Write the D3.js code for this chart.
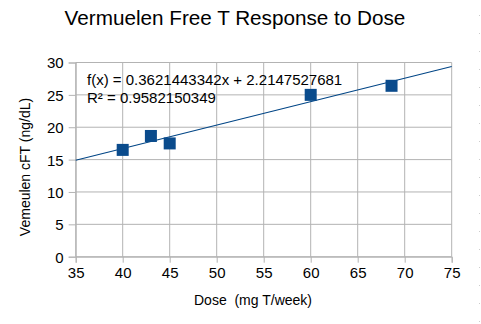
<!DOCTYPE html>
<html><head><meta charset="utf-8">
<script src="https://cdn.jsdelivr.net/npm/d3@7"></script>
<style>body{margin:0;background:#fff}svg{display:block;font-family:"Liberation Sans",Arial,sans-serif}</style>
</head><body>
<svg id="c" width="481" height="324"></svg>
<script>
const doses = [40, 43, 45, 60, 68.6];
const freeT = [16.5, 18.65, 17.5, 25.0, 26.4];
const xTicks = [35, 40, 45, 50, 55, 60, 65, 70, 75];
const yTicks = [0, 5, 10, 15, 20, 25, 30];
const slope = 0.3621443342, intercept = 2.2147527681;
const eqLines = ["f(x) = 0.3621443342x + 2.2147527681", "R\u00b2 = 0.9582150349"];

const svg = d3.select("#c");
const x = d3.scaleLinear().domain([35, 75]).range([75.7, 451.7]);
const y = d3.scaleLinear().domain([0, 30]).range([256.7, 62.5]);
const grid = "#b3b3b3";

// gridlines
svg.append("g").selectAll("line").data(xTicks).join("line")
  .attr("x1", d => x(d)).attr("x2", d => x(d)).attr("y1", y(30)).attr("y2", y(0))
  .attr("stroke", grid).attr("stroke-width", 1);
svg.append("g").selectAll("line").data(yTicks).join("line")
  .attr("x1", x(35)).attr("x2", x(75)).attr("y1", d => y(d)).attr("y2", d => y(d))
  .attr("stroke", grid).attr("stroke-width", 1);

// axes
const xa = svg.append("g").attr("transform", `translate(0,${y(0)})`)
  .call(d3.axisBottom(x).tickValues(xTicks).tickSize(6).tickPadding(5).tickFormat(d3.format("d")));
const ya = svg.append("g").attr("transform", `translate(${x(35)},0)`)
  .call(d3.axisLeft(y).tickValues(yTicks).tickSize(7).tickPadding(5).tickFormat(d3.format("d")));
[xa, ya].forEach(a => {
  a.select(".domain").attr("stroke", grid);
  a.selectAll(".tick line").attr("stroke", grid);
  a.selectAll("text").attr("fill", "#000").style("font-size", "15px").style("font-family", '"Liberation Sans",Arial,sans-serif');
});
ya.selectAll("text").attr("dy", "0.36em");

// trend line
svg.append("line")
  .attr("x1", x(35)).attr("y1", y(slope * 35 + intercept))
  .attr("x2", x(75)).attr("y2", y(slope * 75 + intercept))
  .attr("stroke", "#004586").attr("stroke-width", 1.1);

// points
const s = 12;
svg.append("g").selectAll("rect").data(doses.map((d, i) => [d, freeT[i]])).join("rect")
  .attr("x", d => x(d[0]) - s / 2).attr("y", d => y(d[1]) - s / 2)
  .attr("width", s).attr("height", s).attr("fill", "#0a4b8c");

// equation
svg.append("g").selectAll("text").data(eqLines).join("text")
  .attr("x", 87).attr("y", (d, i) => 85 + i * 17.5)
  .style("font-size", "15px").attr("fill", "#000").text(d => d);

// title
svg.append("text").attr("x", 235).attr("y", 25).attr("text-anchor", "middle")
  .style("font-size", "20.7px").attr("fill", "#000").text("Vermuelen Free T Response to Dose");

// axis labels
svg.append("text").attr("x", 253).attr("y", 305).attr("text-anchor", "middle")
  .style("font-size", "14px").attr("fill", "#000").attr("xml:space", "preserve").text("Dose  (mg T/week)");
svg.append("text").attr("transform", "translate(30,167) rotate(-90)").attr("text-anchor", "middle")
  .style("font-size", "14px").attr("fill", "#000").text("Vemeulen cFT (ng/dL)");

// faint dotted edge
svg.append("line").attr("x1", 479.5).attr("x2", 479.5).attr("y1", 15).attr("y2", 324)
  .attr("stroke", "#ccc").attr("stroke-dasharray", "1,17");
</script>
</body></html>
